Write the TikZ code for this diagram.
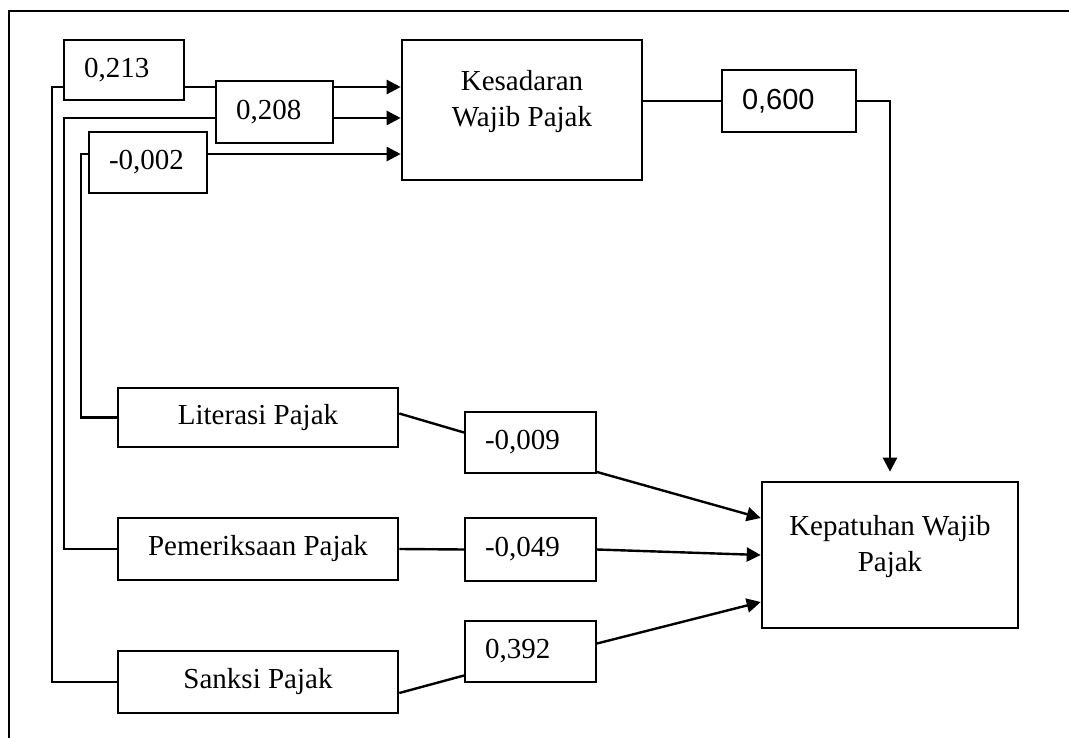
\documentclass[tikz,border=0pt]{standalone}
\usepackage{fontspec}
\setmainfont{Liberation Serif}
\newfontfamily\arialfont{Liberation Sans}
\usepackage{tikz}
\usetikzlibrary{calc,  positioning,  arrows.meta}
\newcommand{\diagfont}{\fontsize{29}{36}\selectfont}

\tikzset{
  varbox/.style={draw, rectangle, line width=2.6pt, align=center, font=\diagfont},
  boxtext/.style={align=center, font=\diagfont},
  coefbox/.style={draw, rectangle, fill=white, line width=2pt, inner xsep=20pt,
                  text width=#1, align=left, font=\diagfont},
  link/.style={line width=2.4pt},
  arr/.style={line width=2.4pt, -{Triangle[length=14pt, width=14pt]}}
}

\begin{document}
\begin{tikzpicture}[x=1pt, y=-1pt]
          \useasboundingbox (0,0) rectangle (1069,738);
          \draw[line width=2.4pt] (9,738) -- (9,11) -- (1069,11);

          % variabel
          \node[varbox, minimum width=240pt, minimum height=140pt] (kes) at (522, 110) {};
          \node[boxtext] (kesText) at ([yshift=8.5pt]kes.center) {Kesadaran\\Wajib Pajak};
          \node[varbox, minimum width=256pt, minimum height=146pt] (kep) at (890, 555) {};
          \node[boxtext] (kepText) at ([yshift=8.5pt]kep.center) {Kepatuhan Wajib\\Pajak};
          \node[varbox, minimum width=280pt, minimum height=59pt] (lit) at (258, 417.5) {Literasi Pajak};
          \node[varbox, minimum width=280pt, minimum height=62pt] (pem) at (258, 549) {Pemeriksaan Pajak};
          \node[varbox, minimum width=280pt, minimum height=62pt] (san) at (258, 682) {Sanksi Pajak};

          % koefisien
          \node[coefbox=80pt, minimum height=60pt] (b213) at (124, 70) {0,213};
          \node[coefbox=77pt, minimum height=62pt] (b208) at (274.5, 112) {0,208};
          \node[coefbox=78pt, minimum height=61pt] (b002) at (148, 162.5) {-0,002};
          \node[coefbox=94pt, minimum height=62pt, font=\arialfont\diagfont] (b600) at (789, 101) {0,600};
          \node[coefbox=91pt, minimum height=61pt] (b009) at (530.5, 442.5) {-0,009};
          \node[coefbox=91pt, minimum height=63pt] (b049) at (530.5, 549.5) {-0,049};
          \node[coefbox=91pt, minimum height=61pt] (b392) at (530.5, 651.5) {0,392};

          \coordinate (t1) at (52, 87);
          \coordinate (t2) at (64, 118);
          \coordinate (t3) at (81, 154);

          \draw[link] (san.west) -| (t1) -- (t1 -| b213.west);
          \draw[link] (t1 -| b213.east) -- (t1 -| b208.west);
          \draw[arr] (t1 -| b208.east) -- (t1 -| kes.west);
          \draw[link] (pem.west) -| (t2) -- (t2 -| b208.west);
          \draw[arr] (t2 -| b208.east) -- (t2 -| kes.west);
          \draw[link] (lit.west) -| (t3) -- (t3 -| b002.west);
          \draw[arr] (t3 -| b002.east) -- (t3 -| kes.west);

          \draw[link] (b600.west -| kes.east) -- (b600.west);
          \draw[arr, shorten >=9pt] (b600.east) -| (kep.north);

          \draw[link] ([yshift=4pt]lit.east) -- ([yshift=10pt]b009.west);
          \draw[arr] ([yshift=2pt]b009.south east) -- ([yshift=37pt]kep.west);
          \draw[link] (pem.east) -- (b049.west);
          \draw[arr] (b049.east) -- (kep.west);
          \draw[link] ([yshift=-11pt]san.east) -- ([yshift=-24pt]b392.west);
          \draw[arr] ([yshift=8pt]b392.east) -- ([yshift=-47pt]kep.west);
      \end{tikzpicture}
\end{document}
